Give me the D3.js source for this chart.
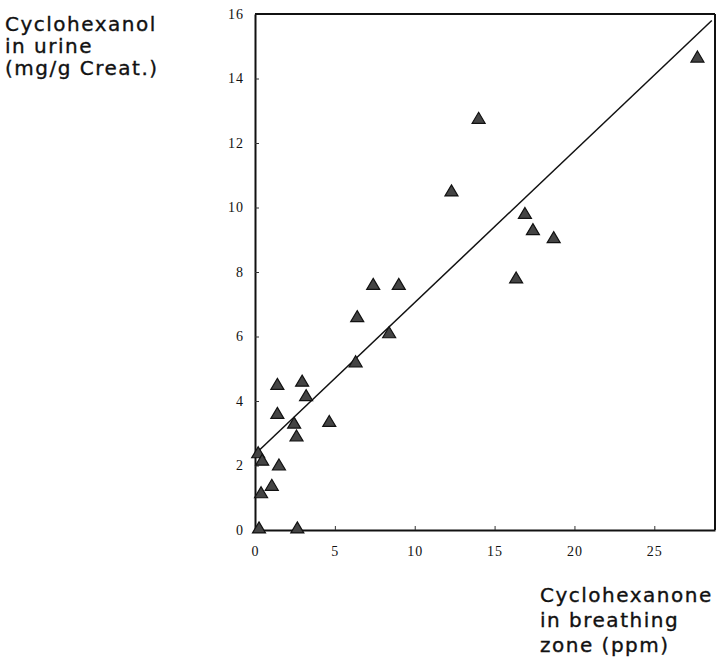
<!DOCTYPE html>
<html>
<head>
<meta charset="utf-8">
<script src="https://cdn.jsdelivr.net/npm/d3@7"></script>
<style>
  body { margin: 0; background: #fff; }
  svg { display: block; }
  .label { font-family: "DejaVu Sans", sans-serif; font-size: 20px; letter-spacing: 1.5px; fill: #111; stroke: #111; stroke-width: 0.35px; }
  .axis text { font-family: "Liberation Serif", serif; font-size: 14px; letter-spacing: 1px; fill: #111; }
</style>
</head>
<body>
<svg width="728" height="661"></svg>
<script>
// data: ppm in breathing zone vs mg/g creat. in urine
var exposure = [27.7, 14.0, 12.3, 16.9, 17.4, 18.7, 16.35, 7.4, 9.0, 6.4, 8.4, 6.3,
  4.65, 2.95, 3.2, 1.4, 1.4, 2.45, 2.6, 0.2, 0.45, 1.5, 1.05, 0.38, 0.25, 2.65];
var urine = [14.65, 12.75, 10.5, 9.8, 9.3, 9.05, 7.8, 7.6, 7.6, 6.6, 6.1, 5.2,
  3.35, 4.6, 4.15, 4.5, 3.6, 3.3, 2.9, 2.38, 2.15, 2.0, 1.37, 1.14, 0.05, 0.05];
// regression line, two ends
var fitX = [0, 28.6];
var fitY = [2.35, 15.8];
var xTicks = [0, 5, 10, 15, 20, 25];
var yTicks = [0, 2, 4, 6, 8, 10, 12, 14, 16];
var yTitle = ["Cyclohexanol", "in urine", "(mg/g Creat.)"];
var xTitle = ["Cyclohexanone", "in breathing", "zone (ppm)"];

var svg = d3.select("svg");

var x = d3.scaleLinear().domain([0, 28.8]).range([255, 715]);
var y = d3.scaleLinear().domain([0, 16]).range([530, 14]);

// axes, ticks pointing into the plot
svg.append("g")
  .attr("class", "axis")
  .attr("transform", "translate(0," + y(0) + ")")
  .call(d3.axisBottom(x).tickValues(xTicks).tickSizeInner(-4).tickSizeOuter(0).tickPadding(16));

svg.append("g")
  .attr("class", "axis")
  .attr("transform", "translate(" + x(0) + ",0)")
  .call(d3.axisLeft(y).tickValues(yTicks).tickSizeInner(-4).tickSizeOuter(0).tickPadding(11));

svg.selectAll(".axis .domain").attr("stroke", "#111").attr("stroke-width", 2);
svg.selectAll(".axis .tick line").attr("stroke", "#333").attr("stroke-width", 1);

// top and right frame
svg.append("line")
  .attr("x1", x(0)).attr("x2", x(28.8))
  .attr("y1", y(16)).attr("y2", y(16))
  .attr("stroke", "#111").attr("stroke-width", 2);
svg.append("line")
  .attr("x1", x(28.8)).attr("x2", x(28.8))
  .attr("y1", y(16)).attr("y2", y(0))
  .attr("stroke", "#111").attr("stroke-width", 2);

// fitted line
svg.append("line")
  .attr("x1", x(fitX[0])).attr("y1", y(fitY[0]))
  .attr("x2", x(fitX[1])).attr("y2", y(fitY[1]))
  .attr("stroke", "#111").attr("stroke-width", 1.5);

// triangles
var tri = "M0,-6.5L6.5,4.5L-6.5,4.5Z";
svg.append("g")
  .selectAll("path")
  .data(exposure)
  .enter().append("path")
  .attr("d", tri)
  .attr("transform", function (d, i) { return "translate(" + x(d) + "," + y(urine[i]) + ")"; })
  .attr("fill", "#444")
  .attr("stroke", "#111")
  .attr("stroke-width", 1.2);

// axis titles
svg.append("text")
  .attr("class", "label")
  .selectAll("tspan")
  .data(yTitle)
  .enter().append("tspan")
  .attr("x", 5)
  .attr("y", function (d, i) { return 31 + i * 22; })
  .text(function (d) { return d; });

svg.append("text")
  .attr("class", "label")
  .selectAll("tspan")
  .data(xTitle)
  .enter().append("tspan")
  .attr("x", 540)
  .attr("y", function (d, i) { return 602 + i * 25; })
  .text(function (d) { return d; });
</script>
</body>
</html>
